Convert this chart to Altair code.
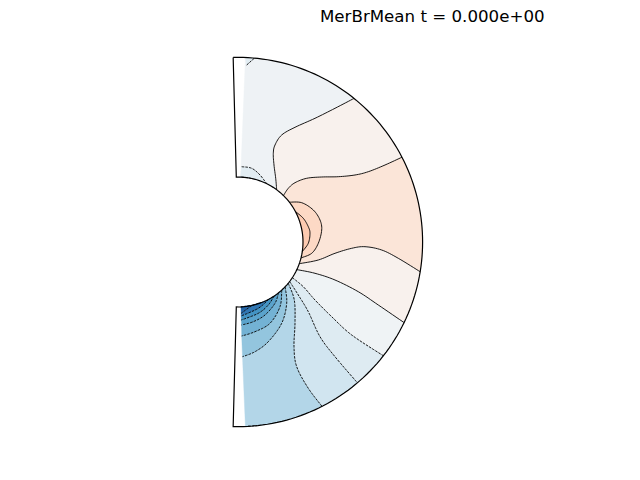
import math
import altair as alt

CX, CY = 238.0, 242.0
R_IN, R_OUT = 65.0, 184.6
FILL_EDGE = 87.7
FRAME_EDGE = 91.5

# contour lines (image-like units, y downward)
A = [(353.3,99.3),(335,108.3),(315,118.3),(295,127.3),(281.7,135),(275,145),(273.3,153.3),(274,165),(275.7,178.3),(277,189.3)]
B = [(401,157.7),(385,165),(368.3,171.7),(355,175),(338.3,176.7),(321.7,177),(306.7,178.3),(295,182.7),(288.3,188.3),(284,195)]
C = [(290,201.7),(301.7,202.7),(313.3,210),(320,220),(321.7,230),(318.3,243.3),(311.7,253.3),(301.5,258)]
E = [(295,211.7),(303.3,218.3),(308.3,226.7),(310,233.3),(308.3,243.3),(303,251.7)]
D = [(301,264.3),(318.3,260),(335,253.3),(351.7,248.3),(365,246.7),(381.7,250),(398.3,258.3),(420,271.7)]
TIP = [(246.7,65),(254.3,59.3)]
CAP1 = [(241.7,166.7),(251.7,168.3),(260,175),(266.7,183.3)]
CAP2 = [(241.7,174),(248.3,176),(253.3,178.3)]
TAIL = [(248,425),(257,424)]
L1 = [(297.7,270),(315,273.3),(335,280),(358.3,291.7),(378.3,305),(404.3,322.7)]
L2 = [(293.3,278.3),(303.3,286.7),(315,300),(331.7,316.7),(351.7,335),(383.3,355.7)]
L3 = [(290,281.7),(298.3,295),(308.3,311.7),(320,336.7),(335,356.7),(357.3,382.7)]
L4 = [(288.3,283.3),(294.3,300),(295,323.3),(294,346.7),(296.7,366.7),(308.3,388.3),(321.7,405.7)]
L5 = [(285,286.7),(286.7,303.3),(281.7,323.3),(268.3,341.7),(255,351.7),(242.5,356.7)]
L6 = [(281.7,290),(280,306.7),(270,323.3),(255,331.7),(241.7,336)]
L7 = [(278.3,292.7),(275,303.3),(265,315),(253.3,321.7),(241.5,325)]
L8 = [(273.3,295),(268.3,305),(258.3,313.3),(241.3,320)]
L9 = [(268.3,298.3),(258.3,308.3),(241.2,316)]
L10 = [(261.7,301),(253.3,308.3),(241.2,313.3)]
L11 = [(253.3,304),(241.1,310.7)]

SOLID_LINES = [A, B, C, E, D, L1]
DASHED_LINES = [TIP, CAP1, CAP2, TAIL, L2, L3, L4, L5, L6, L7, L8, L9, L10, L11]

C_TOP = "#eef2f5"
C_PINK = "#f8f1ed"
C_PEACH = "#fbe5d8"
C_RING = "#fdd9c5"
C_CORE = "#fdcab0"
C_CAP1 = "#e2edf3"
C_CAP2 = "#d4e6f0"
BLUES = ["#eff3f5", "#deebf2", "#d1e5f0", "#b3d6e8", "#93c5de", "#73b2d4", "#5aa3cc", "#4393c3", "#3077b4", "#2566a8", "#1a5596"]


def polar(r, deg):
    t = math.radians(deg)
    return (CX + r * math.cos(t), CY - r * math.sin(t))


def to_polar(p):
    return math.hypot(p[0] - CX, CY - p[1]), math.degrees(math.atan2(CY - p[1], p[0] - CX))


def snap(p):
    r, t = to_polar(p)
    if abs(r - R_OUT) < 4:
        r = R_OUT
    elif abs(r - R_IN) < 4:
        r = R_IN
    else:
        return p
    return polar(r, t)


def curved(pts):
    """Draw a read-off contour as a smooth curve, like a cardinal line interpolation."""
    pts = [snap(p) for p in pts]
    if len(pts) < 3:
        return pts
    out = []
    ext = [pts[0]] + pts + [pts[-1]]
    for i in range(1, len(ext) - 2):
        p0, p1, p2, p3 = ext[i - 1], ext[i], ext[i + 1], ext[i + 2]
        for k in range(8):
            s = k / 8
            out.append(tuple(
                0.5 * (2 * p1[j] + (p2[j] - p0[j]) * s
                       + (2 * p0[j] - 5 * p1[j] + 4 * p2[j] - p3[j]) * s * s
                       + (3 * p1[j] - p0[j] - 3 * p2[j] + p3[j]) * s ** 3)
                for j in (0, 1)))
    out.append(pts[-1])
    return out


def path(*pieces):
    """Join pieces of boundary, following the annulus between them."""
    pieces = [curved(piece) for piece in pieces]
    out = []
    for i, piece in enumerate(pieces):
        out.extend(piece)
        r0, t0 = to_polar(piece[-1])
        r1, t1 = to_polar(pieces[(i + 1) % len(pieces)][0])
        if t0 < -90 and t1 > 0:
            t0 += 360
        for k in range(1, 24):
            f = k / 24
            out.append(polar(r0 + (r1 - r0) * f, t0 + (t1 - t0) * f))
    out.append(out[0])
    return out


def rev(line):
    return line[::-1]


TO = polar(R_OUT, FILL_EDGE)
TI = polar(R_IN, FILL_EDGE)
BO = polar(R_OUT, -FILL_EDGE)
BI = polar(R_IN, -FILL_EDGE)

regions = [
    (path([TO], A, [TI]), C_TOP),
    (path(TIP, [TO]), C_CAP1),
    (path(CAP1, [TI]), C_CAP1),
    (path(CAP2, [TI]), C_CAP2),
    (path(A, rev(B)), C_PINK),
    (path(B, C, D, ), C_PEACH),
    (path(C), C_RING),
    (path(E), C_CORE),
    (path(D, rev(L1)), C_PINK),
    (path(L1, rev(L2)), BLUES[0]),
    (path(L2, rev(L3)), BLUES[1]),
    (path(L3, rev(L4)), BLUES[2]),
    (path(L4, [BO], rev(L5)), BLUES[3]),
    (path(L5, rev(L6)), BLUES[4]),
    (path(L6, rev(L7)), BLUES[5]),
    (path(L7, rev(L8)), BLUES[6]),
    (path(L8, rev(L9)), BLUES[7]),
    (path(L9, rev(L10)), BLUES[8]),
    (path(L10, rev(L11)), BLUES[9]),
    (path(L11, [BI]), BLUES[10]),
]


def collection(features):
    return alt.InlineData(values={"type": "FeatureCollection", "features": features},
                          format=alt.DataFormat(type="json", property="features"))


def poly(coords, color):
    return {"type": "Feature", "properties": {"color": color},
            "geometry": {"type": "Polygon", "coordinates": [[list(p) for p in coords]]}}


def line(coords):
    return {"type": "Feature", "properties": {},
            "geometry": {"type": "LineString", "coordinates": [list(p) for p in curved(coords)]}}


proj = dict(type="identity", scale=1, translate=[-8, -38])

fills = alt.Chart(collection([poly(c, col) for c, col in regions])).mark_geoshape(strokeWidth=0.4).encode(
    color=alt.Color("properties.color:N", scale=None, legend=None),
    stroke=alt.Stroke("properties.color:N", scale=None, legend=None),
).project(**proj)

solid = alt.Chart(collection([line(l) for l in SOLID_LINES])).mark_geoshape(
    filled=False, strokeWidth=0.9).encode(stroke=alt.value("#000000")).project(**proj)

dashed = alt.Chart(collection([line(l) for l in DASHED_LINES])).mark_geoshape(
    filled=False, strokeWidth=0.9, strokeDash=[2.6, 1.1]).encode(stroke=alt.value("#000000")).project(**proj)

frame_pts = ([polar(R_OUT, FRAME_EDGE - i * 2 * FRAME_EDGE / 120) for i in range(121)]
             + [polar(R_IN, -FRAME_EDGE + i * 2 * FRAME_EDGE / 80) for i in range(81)])
frame_pts.append(frame_pts[0])
frame = alt.Chart(collection([{"type": "Feature", "properties": {},
                               "geometry": {"type": "LineString", "coordinates": [list(p) for p in frame_pts]}}])).mark_geoshape(
    filled=False, strokeWidth=1.2).encode(stroke=alt.value("#000000")).project(**proj)

chart = alt.layer(fills, solid, dashed, frame).properties(
    width=620, height=430,
    padding={"left": 0, "top": 30, "right": 0, "bottom": 0},
    autosize=alt.AutoSizeParams(type="none"),
    title=alt.TitleParams("MerBrMean t = 0.000e+00", anchor="start", frame="group", dx=312, offset=12,
                          font="DejaVu Sans", fontSize=16.67, fontWeight="normal", color="#000000"),
).configure_view(stroke=None)

chart.save("out.html", embed_options={"renderer": "svg", "actions": False})
